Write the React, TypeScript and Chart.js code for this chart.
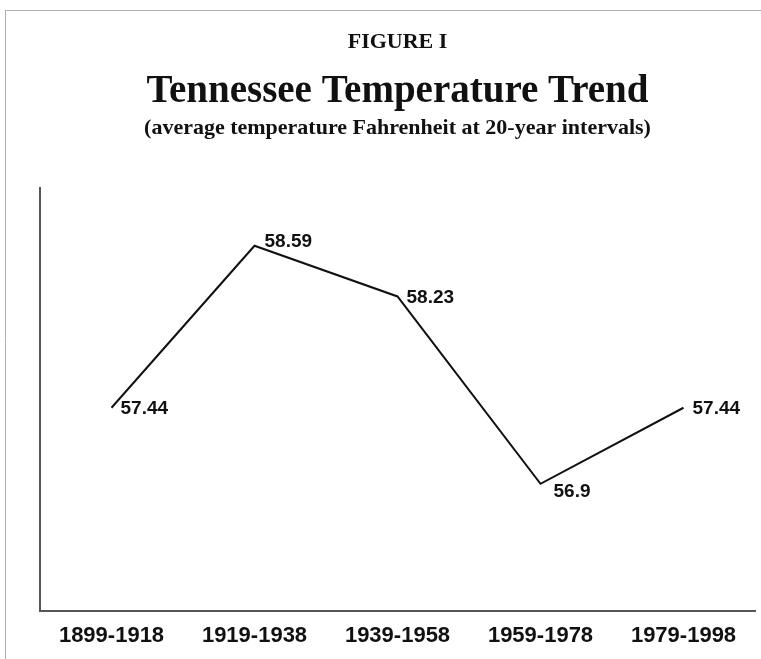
import React, { useEffect, useRef } from "react";
import { Chart, registerables } from "chart.js";

Chart.register(...registerables);

const categories = ["1899-1918", "1919-1938", "1939-1958", "1959-1978", "1979-1998"];
const temperatures = [57.44, 58.59, 58.23, 56.9, 57.44];
const valueLabels = ["57.44", "58.59", "58.23", "56.9", "57.44"];
const figureLabel = "FIGURE I";
const titleText = "Tennessee Temperature Trend";
const subtitleText = "(average temperature Fahrenheit at 20-year intervals)";

// label placement styles (offsets from each point, in px)
const labelDx = [9, 10, 9, 13, 9];
const labelDy = [6.5, 1, 7, 13.5, 6.5];

const PAGE_W = 761;
const PAGE_H = 659;
const CANVAS_H = 667;

const textPlugin = {
  id: "figureText",
  beforeDraw(chart: any) {
    const ctx = chart.ctx;
    ctx.save();
    ctx.fillStyle = "#ffffff";
    ctx.fillRect(0, 0, chart.width, chart.height);
    ctx.strokeStyle = "#b0b0b0";
    ctx.lineWidth = 1;
    ctx.beginPath();
    ctx.moveTo(5, 10.5);
    ctx.lineTo(chart.width, 10.5);
    ctx.moveTo(5.5, 10);
    ctx.lineTo(5.5, chart.height);
    ctx.stroke();
    ctx.restore();
  },
  afterDraw(chart: any) {
    const ctx = chart.ctx;
    const ca = chart.chartArea;
    const cx = (ca.left + ca.right) / 2;
    ctx.save();
    ctx.fillStyle = "#111111";
    ctx.textAlign = "center";
    ctx.textBaseline = "alphabetic";
    ctx.font = "bold 22px 'Liberation Serif', 'Times New Roman', serif";
    ctx.fillText(figureLabel, cx, 48);
    ctx.font = "bold 39px 'Liberation Serif', 'Times New Roman', serif";
    ctx.fillText(titleText, cx, 102);
    ctx.font = "bold 22px 'Liberation Serif', 'Times New Roman', serif";
    ctx.fillText(subtitleText, cx, 134);

    const meta = chart.getDatasetMeta(0);
    ctx.textAlign = "left";
    ctx.font = "bold 19px 'Liberation Sans', Arial, sans-serif";
    meta.data.forEach((pt: any, i: number) => {
      ctx.fillText(valueLabels[i], pt.x + labelDx[i], pt.y + labelDy[i]);
    });
    ctx.restore();
  },
};

export default function App() {
  const ref = useRef<HTMLCanvasElement | null>(null);
  useEffect(() => {
    if (!ref.current) return;
    const chart = new Chart(ref.current, {
      type: "line",
      data: {
        labels: categories,
        datasets: [
          {
            data: temperatures,
            borderColor: "#111111",
            borderWidth: 2,
            pointRadius: 0,
            tension: 0,
            fill: false,
            borderJoinStyle: "miter",
          },
        ],
      },
      options: {
        animation: false,
        responsive: false,
        events: [],
        layout: { padding: { top: 188, left: 40, right: 6, bottom: 6 } },
        plugins: {
          legend: { display: false },
          title: { display: false },
          tooltip: { enabled: false },
        },
        scales: {
          x: {
            offset: true,
            grid: { display: false, drawTicks: false },
            border: { display: true, color: "#555555", width: 2 },
            ticks: {
              color: "#111111",
              padding: 12,
              font: { family: "'Liberation Sans', Arial, sans-serif", size: 22, weight: "bold" },
              maxRotation: 0,
              autoSkip: false,
            },
          },
          y: {
            min: 56,
            max: 59,
            grid: { display: false, drawTicks: false },
            border: { display: true, color: "#555555", width: 2 },
            ticks: { display: false },
          },
        },
      },
      plugins: [textPlugin],
    } as any);
    return () => chart.destroy();
  }, []);
  return (
    <div
      style={{
        position: "absolute",
        left: 0,
        top: 0,
        width: PAGE_W,
        height: PAGE_H,
        overflow: "hidden",
        background: "#fff",
      }}
    >
      <canvas ref={ref} width={PAGE_W} height={CANVAS_H} style={{ display: "block" }} />
    </div>
  );
}
